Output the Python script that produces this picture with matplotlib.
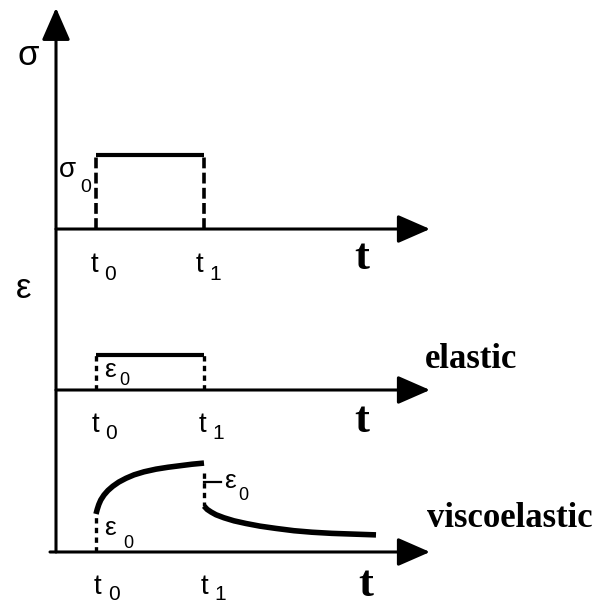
import matplotlib
matplotlib.use("Agg")
import matplotlib.pyplot as plt

# ---- data -------------------------------------------------------------
t_load = 1.0        # t0: load applied
t_unload = 3.7      # t1: load removed
t_axis_end = 9.35   # end of the time axes

sigma_0 = 1.0       # applied stress level
eps_0 = 1.0         # instantaneous (elastic) strain

# viscoelastic response: creep while loaded, recovery after unloading
creep_t = [1.0, 1.03, 1.07, 1.12, 1.2, 1.3, 1.42, 1.57, 1.75, 1.95,
           2.2, 2.5, 2.8, 3.1, 3.4, 3.7]
creep_eps = [1.0, 1.12, 1.25, 1.37, 1.5, 1.62, 1.73, 1.84, 1.94, 2.03,
             2.11, 2.18, 2.23, 2.27, 2.31, 2.34]
recovery_t = [3.7, 3.78, 3.88, 4.0, 4.2, 4.45, 4.75, 5.1, 5.5, 5.95,
              6.4, 6.9, 7.45, 8.0]
recovery_eps = [1.21, 1.12, 1.05, 0.98, 0.9, 0.82, 0.75, 0.68, 0.62, 0.56,
                0.52, 0.49, 0.47, 0.45]
recovery_marker = 1.84   # level of the "-ε0" marker
recovery_marker_end = 4.125

time_ticks = [("t", "0"), ("t", "1")]

# ---- figure -----------------------------------------------------------
W, H = 594, 605
fig = plt.figure(figsize=(W / 100, H / 100), dpi=100)
fig.patch.set_facecolor("white")

XLIM = (-1.4, 13.45)


def panel(ylim):
    ax = fig.add_axes([0, 0, 1, 1])
    ax.set_xlim(*XLIM)
    ax.set_ylim(*ylim)
    ax.axis("off")
    ax.patch.set_alpha(0)
    return ax


ax_s = panel((-5.081, 3.095))    # stress
ax_e = panel((-6.143, 11.143))   # elastic strain
ax_v = panel((-1.395, 14.526))   # viscoelastic strain

SANS = ["Liberation Sans", "DejaVu Sans"]
SERIF = ["Liberation Serif", "DejaVu Serif"]
ARROW = dict(arrowstyle="-|>,head_length=0.8,head_width=0.35", lw=2.2,
             color="black", mutation_scale=25, shrinkA=0, shrinkB=0)
DASH_LONG = (0, (3.0, 1.2))
DASH_SHORT = (0, (1.6, 1.3))


def time_axis(ax, x0=0.0):
    ax.annotate("", xy=(t_axis_end, 0), xytext=(x0, 0), arrowprops=ARROW)


def sub_text(ax, x, y, base, sub, size, subsize, dx, dy):
    ax.text(x, y, base, family=SANS, fontsize=size, ha="center",
            va="baseline")
    ax.annotate(sub, xy=(x, y), xytext=(dx * 0.72, dy * 0.72),
                textcoords="offset points", family=SANS, fontsize=subsize,
                ha="center", va="baseline")


# vertical axis shared by the three panels
ax_v.annotate("", xy=(0, 14.32), xytext=(0, 0), arrowprops=ARROW)

# ---- stress panel ------------------------------------------------------
time_axis(ax_s)
ax_s.plot([t_load, t_unload], [sigma_0, sigma_0], color="black", lw=3,
          solid_capstyle="butt")
for tt in (t_load, t_unload):
    ax_s.plot([tt, tt], [0, sigma_0], color="black", lw=2.6,
              linestyle=DASH_LONG, dash_capstyle="butt")
ax_s.text(-0.7, 2.216, "σ", family=SANS, fontsize=25, ha="center",
          va="baseline")
sub_text(ax_s, 0.275, 0.70, "σ", "0", 20, 14, 19, -15)
for (b, s), x in zip(time_ticks, (0.96, 3.59)):
    sub_text(ax_s, x, -0.58, b, s, 20, 15, 15.5, -8)
ax_s.text(7.65, -0.54, "t", family=SERIF, weight="bold", fontsize=32,
          ha="center", va="baseline")

# ---- elastic panel -----------------------------------------------------
time_axis(ax_e)
ax_e.plot([t_load, t_unload], [eps_0, eps_0], color="black", lw=3,
          solid_capstyle="butt")
for tt in (t_load, t_unload):
    ax_e.plot([tt, tt], [0, eps_0], color="black", lw=2.4,
              linestyle=DASH_SHORT, dash_capstyle="butt")
ax_e.text(-0.8, 2.63, "ε", family=SANS, fontsize=25, ha="center",
          va="baseline")
sub_text(ax_e, 1.35, 0.37, "ε", "0", 19, 13, 14, -8)
for (b, s), x in zip(time_ticks, (0.975, 3.65)):
    sub_text(ax_e, x, -1.2, b, s, 20, 15, 16.5, -7)
ax_e.text(7.65, -1.2, "t", family=SERIF, weight="bold", fontsize=32,
          ha="center", va="baseline")
ax_e.text(9.225, 0.63, "elastic", family=SERIF, weight="bold", fontsize=25,
          ha="left", va="baseline")

# ---- viscoelastic panel -----------------------------------------------
time_axis(ax_v, x0=-0.15)
ax_v.plot(creep_t, creep_eps, color="black", lw=4, solid_capstyle="butt",
          solid_joinstyle="round")
ax_v.plot(recovery_t, recovery_eps, color="black", lw=4,
          solid_capstyle="butt", solid_joinstyle="round")
ax_v.plot([t_load, t_load], [0, creep_eps[0]], color="black", lw=2.4,
          linestyle=DASH_SHORT, dash_capstyle="butt")
ax_v.plot([t_unload, t_unload], [creep_eps[-1] - 0.25, recovery_eps[0]],
          color="black", lw=2.4, linestyle=DASH_SHORT, dash_capstyle="butt")
ax_v.plot([t_unload, recovery_marker_end], [recovery_marker] * 2,
          color="black", lw=1.6)
sub_text(ax_v, 1.36, 0.45, "ε", "0", 19, 13, 17.5, -13)
sub_text(ax_v, 4.36, 1.68, "ε", "0", 19, 13, 12.5, -12)
for (b, s), x in zip(time_ticks, (1.04, 3.7)):
    sub_text(ax_v, x, -1.1, b, s, 20, 15, 16, -6)
ax_v.text(7.75, -1.16, "t", family=SERIF, weight="bold", fontsize=32,
          ha="center", va="baseline")
ax_v.text(9.275, 0.66, "viscoelastic", family=SERIF, weight="bold",
          fontsize=25, ha="left", va="baseline")

fig.savefig("out.png", dpi=100, facecolor="white")
